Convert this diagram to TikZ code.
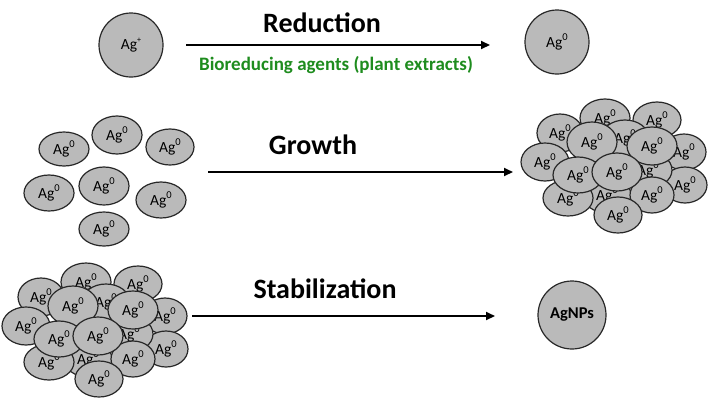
\documentclass[tikz,border=0pt]{standalone}
\usepackage{fontspec}
\setmainfont{Carlito}
\usetikzlibrary{shapes.geometric,arrows.meta}
\definecolor{pfill}{RGB}{186,186,186}
\definecolor{pline}{RGB}{40,40,40}
\definecolor{pgreen}{RGB}{30,140,30}
\tikzset{
  part/.style={ellipse, draw=pline, fill=pfill, line width=1.2pt, inner sep=0pt,
               font=\fontsize{15.5}{15.5}\selectfont},
  bigpart/.style={circle, draw=pline, fill=pfill, line width=1.2pt, inner sep=0pt},
  flow/.style={line width=2pt, -{Triangle[length=9pt,width=8pt]}},
  steplabel/.style={font=\fontsize{28}{28}\selectfont\bfseries, inner sep=0pt},
}
\newcommand{\agz}{Ag\raisebox{0.42em}{\fontsize{10.5}{10.5}\selectfont 0}}
\newcommand{\pp}[6]{\node[part, minimum width=#4*2pt, minimum height=#5*2pt] (#1) at (#2,#3) {#6};}
\newcommand{\clusterat}[3]{%
  \begin{scope}[shift={(#2,#3)}]
    \pp{#1-a}{-10}{-52}{25}{19}{\agz}
    \pp{#1-b}{42}{-50}{24}{18}{\agz}
    \pp{#1-k}{10}{-32}{24}{18}{\agz}
    \pp{#1-c}{-55}{-37}{23}{19}{\agz}
    \pp{#1-e}{69}{-18}{22}{18}{\agz}
    \pp{#1-f}{70}{15}{22}{18}{\agz}
    \pp{#1-l}{33}{0}{24}{18}{\agz}
    \pp{#1-h}{-8}{25}{24}{18}{\agz}
    \pp{#1-d}{-70}{-8}{24}{19}{\agz}
    \pp{#1-g}{-47}{28}{25}{18}{\agz}
    \pp{#1-i}{37}{25}{22}{18}{\agz}
    \pp{#1-j}{3}{45}{24}{18}{\agz}
    \pp{#1-m}{-23}{-28}{25}{20}{\agz}
    \pp{#1-n}{37}{-24}{25}{19}{\agz}
    \pp{#1-o}{-37}{5}{25}{18}{\agz}
    \pp{#1-p}{2}{2}{25}{19}{\agz}
  \end{scope}}
\begin{document}
\begin{tikzpicture}[x=1pt,y=-1pt]
\useasboundingbox (0,0) rectangle (708,402);

% --- Reduction row
\node[bigpart, minimum size=64pt, font=\fontsize{15.5}{15.5}\selectfont] (agp) at (131,45) {Ag\raisebox{0.45em}{\fontsize{8}{8}\selectfont +}};
\node[bigpart, minimum size=64pt, font=\fontsize{15.5}{15.5}\selectfont] (agzero) at (557,42) {\agz};
\coordinate (r1) at (186,45);
\coordinate (r2) at (490,45);
\draw[flow] (r1) -- (r2);
\node[steplabel] (lred) at (322,23) {Reduction};
\node[font=\fontsize{19}{19}\selectfont\bfseries, text=pgreen, inner sep=0pt] (lbio) at (336,65) {Bioreducing agents (plant extracts)};

% --- Growth row
\pp{s1}{64}{149}{25}{17}{\agz}
\pp{s2}{117}{135}{25}{19}{\agz}
\pp{s3}{170}{147}{24}{18}{\agz}
\pp{s4}{49}{193}{25}{18}{\agz}
\pp{s5}{104}{186}{25}{19}{\agz}
\pp{s6}{161}{200}{25}{18}{\agz}
\pp{s7}{104}{229}{25}{17}{\agz}
\coordinate (g1) at (208,172);
\coordinate (g2) at (513,172);
\draw[flow] (g1) -- (g2);
\node[steplabel] (lgro) at (313,145) {Growth};
\clusterat{gc}{615}{170}

% --- Stabilization row
\clusterat{sc}{96}{334}
\coordinate (t1) at (192,316);
\coordinate (t2) at (495,316);
\draw[flow] (t1) -- (t2);
\node[steplabel] (lsta) at (325,289) {Stabilization};
\node[bigpart, minimum size=68pt, font=\fontsize{16.5}{16.5}\selectfont\bfseries] (agnp) at (572,315) {AgNPs};
\end{tikzpicture}
\end{document}
